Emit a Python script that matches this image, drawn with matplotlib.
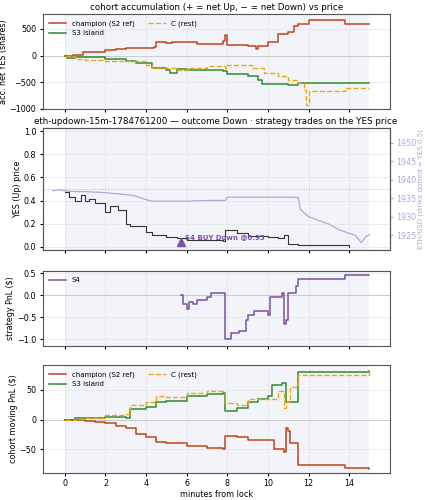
import matplotlib
matplotlib.use("Agg")
import matplotlib.pyplot as plt

# cohort accumulation (shares)
champ_acc_t = [0, 0.4, 0.9, 1.5, 2.0, 2.5, 3.0, 3.5, 4.4, 4.5, 5.0, 5.3, 5.5, 6.0, 6.5, 7.5, 7.8, 7.9, 8.0, 9.0, 9.4, 9.5, 10.0, 10.5, 11.0, 11.3, 11.5, 12.0, 13.8, 15]
champ_acc_v = [0, 20, 70, 60, 100, 120, 140, 150, 160, 250, 230, 250, 260, 250, 220, 220, 280, 380, 200, 180, 120, 180, 260, 400, 450, 550, 600, 660, 600, 600]
s3_acc_t = [0, 0.1, 0.5, 1, 2, 3, 3.5, 4.3, 5.0, 5.2, 5.5, 6, 7, 7.8, 8, 9, 9.5, 9.7, 10, 11, 11.5, 15]
s3_acc_v = [0, -40, -20, -30, -70, -110, -130, -240, -260, -320, -250, -260, -270, -280, -350, -390, -450, -530, -540, -550, -520, -520]
c_acc_t = [0, 0.5, 1, 2, 3, 4, 4.3, 5, 5.5, 6, 7, 7.9, 8, 9.0, 9.2, 9.8, 10.5, 11, 11.5, 11.8, 11.9, 12, 13.8, 15]
c_acc_v = [0, -70, -80, -100, -110, -170, -230, -240, -260, -230, -200, -230, -180, -180, -230, -330, -380, -450, -520, -650, -930, -660, -600, -600]

# YES price and ETH
yes_t = [0, 0.2, 0.5, 0.8, 1, 1.2, 1.5, 2, 2.2, 2.6, 3, 3.2, 3.6, 4, 4.3, 5, 5.5, 6, 6.5, 7, 7.8, 7.9, 8.5, 9, 10, 10.5, 10.8, 11, 11.5, 14]
yes_v = [0.47, 0.43, 0.40, 0.45, 0.40, 0.41, 0.38, 0.30, 0.35, 0.32, 0.20, 0.18, 0.18, 0.13, 0.10, 0.08, 0.07, 0.06, 0.06, 0.06, 0.05, 0.14, 0.12, 0.09, 0.08, 0.07, 0.10, 0.02, 0.01, 0.0]
eth_t = [-0.6, -0.3, 0, 0.5, 1, 2, 3, 3.5, 4, 4.3, 5, 6, 7, 7.9, 8, 9, 10, 11, 11.5, 11.6, 12, 12.5, 13, 13.5, 14, 14.3, 14.6, 14.8, 15]
eth_v = [1937.0, 1937.3, 1937.0, 1936.8, 1936.8, 1936.5, 1936.0, 1935.6, 1934.6, 1934.2, 1934.2, 1934.2, 1934.4, 1934.4, 1935.3, 1935.3, 1935.3, 1935.3, 1935.2, 1932, 1930, 1929, 1928, 1926.5, 1925.5, 1925, 1923, 1924.5, 1925.2]
buy_t, buy_p = 5.7, 0.04

# S4 strategy pnl
s4_t = [5.7, 5.8, 6.0, 6.1, 6.3, 6.5, 7.0, 7.2, 7.8, 7.9, 8.2, 8.6, 8.9, 9.0, 9.3, 10.0, 10.1, 10.7, 10.8, 10.9, 11.0, 11.4, 11.5, 13.8, 15]
s4_v = [0, -0.2, -0.3, -0.15, -0.2, -0.1, -0.05, 0.05, 0.05, -1.0, -0.85, -0.8, -0.55, -0.45, -0.35, -0.45, -0.05, 0.05, -0.65, -0.55, 0.05, 0.2, 0.37, 0.47, 0.47]

# cohort moving pnl
champ_pnl_t = [0, 0.5, 1, 1.5, 2, 2.5, 3, 3.5, 4, 4.5, 5, 6, 7, 7.8, 7.9, 8.5, 9, 10, 10.3, 10.8, 10.9, 11, 11.1, 11.5, 13.8, 15]
champ_pnl_v = [0, -1, -2, -4, -6, -10, -15, -25, -30, -38, -40, -45, -48, -50, -27, -30, -35, -35, -50, -55, -15, -20, -40, -77, -82, -83]
s3_pnl_t = [0, 0.5, 1, 2, 3, 3.2, 4, 4.5, 5, 6, 7, 7.8, 7.9, 8.5, 9, 9.5, 10, 10.2, 10.7, 10.9, 11.5, 13.8, 15]
s3_pnl_v = [0, 2, 3, 4, 3, 18, 22, 30, 32, 40, 43, 44, 15, 20, 30, 35, 40, 58, 62, 30, 80, 80, 82]
c_pnl_t = [0, 0.5, 1, 2, 3, 3.2, 4, 4.5, 5, 6, 7, 7.8, 7.9, 8.5, 9, 10, 10.5, 10.8, 10.9, 11.1, 11.5, 13.8, 15]
c_pnl_v = [0, 1, 3, 8, 10, 25, 30, 40, 38, 45, 48, 49, 28, 25, 35, 35, 48, 20, 30, 55, 75, 75, 83]

RED = "#c0441a"
GREEN = "#2e8b2e"
GOLD = "#e6a817"
PURPLE = "#7b4fa8"
ETHC = "#b7a3d6"

FS = 5.8
plt.rcParams["font.size"] = FS
fig = plt.figure(figsize=(4.25, 5.0), dpi=100)
ax1 = fig.add_axes([0.10, 0.782, 0.817, 0.190])
ax2 = fig.add_axes([0.10, 0.500, 0.817, 0.244])
ax3 = fig.add_axes([0.10, 0.308, 0.817, 0.150])
ax4 = fig.add_axes([0.10, 0.054, 0.817, 0.216])

for ax in (ax1, ax2, ax3, ax4):
    ax.axvspan(0, 15, color="#eef0f8", alpha=0.7, lw=0)
    ax.grid(True, color="#e4e4e4", lw=0.5)
    ax.set_xlim(-1.1, 16)
    ax.set_xticks(range(0, 16, 2))
    ax.tick_params(labelsize=FS, length=2.5, pad=2)
    for s in ax.spines.values():
        s.set_color("#555555")
for ax in (ax1, ax2, ax3):
    ax.tick_params(labelbottom=False)

ax1.axhline(0, color="#cccccc", lw=0.7)
ax1.step(champ_acc_t, champ_acc_v, where="post", color=RED, lw=1.1, label="champion (S2 ref)")
ax1.step(s3_acc_t, s3_acc_v, where="post", color=GREEN, lw=1.1, label="S3 island")
ax1.step(c_acc_t, c_acc_v, where="post", color=GOLD, lw=1.0, ls="--", label="C (rest)")
ax1.set_ylim(-1000, 780)
ax1.set_yticks([-1000, -500, 0, 500])
ax1.set_ylabel("acc. net YES (shares)", fontsize=FS, labelpad=1)
ax1.set_title("cohort accumulation (+ = net Up, \u2212 = net Down) vs price", fontsize=6.3, pad=3)
ax1.legend(loc="upper left", ncol=2, fontsize=5, frameon=False, handlelength=2.5)

ax2.axhline(0.5, color="#bbbbbb", lw=0.7, ls=":")
ax2.step(yes_t, yes_v, where="post", color="#333333", lw=0.8)
ax2.plot(buy_t, buy_p, marker="^", color=PURPLE, ms=6, ls="none")
ax2.annotate("S4 BUY Down @0.95", (buy_t, buy_p), xytext=(3, 2), textcoords="offset points",
             color=PURPLE, fontsize=5, fontweight="bold")
ax2.set_ylim(-0.03, 1.03)
ax2.set_ylabel("YES (Up) price", fontsize=FS, labelpad=1)
ax2.set_title("eth-updown-15m-1784761200 \u2014 outcome Down \u00b7 strategy trades on the YES price", fontsize=6.3, pad=3)
ax2b = ax2.twinx()
ax2b.plot(eth_t, eth_v, color=ETHC, lw=0.9)
ax2b.set_ylim(1921, 1954)
ax2b.set_yticks([1925, 1930, 1935, 1940, 1945, 1950])
ax2b.tick_params(labelsize=FS, colors=ETHC, length=2.5, pad=2)
ax2b.set_ylabel("ETH/USD (strike dotted = YES 0.5)", fontsize=5, color=ETHC, labelpad=1)
for s in ax2b.spines.values():
    s.set_color("#555555")

ax3.axhline(0, color="#cccccc", lw=0.7)
ax3.step(s4_t, s4_v, where="post", color=PURPLE, lw=1.1, label="S4")
ax3.set_ylim(-1.15, 0.55)
ax3.set_yticks([-1.0, -0.5, 0.0, 0.5])
ax3.set_ylabel("strategy PnL ($)", fontsize=FS, labelpad=1)
ax3.legend(loc="upper left", fontsize=5, frameon=False, handlelength=2.5)

ax4.axhline(0, color="#cccccc", lw=0.7)
ax4.step(champ_pnl_t, champ_pnl_v, where="post", color=RED, lw=1.1, label="champion (S2 ref)")
ax4.step(s3_pnl_t, s3_pnl_v, where="post", color=GREEN, lw=1.1, label="S3 island")
ax4.step(c_pnl_t, c_pnl_v, where="post", color=GOLD, lw=1.0, ls="--", label="C (rest)")
ax4.set_ylim(-90, 92)
ax4.set_yticks([-50, 0, 50])
ax4.set_ylabel("cohort moving PnL ($)", fontsize=FS, labelpad=1)
ax4.set_xlabel("minutes from lock", fontsize=FS, labelpad=1)
ax4.legend(loc="upper left", ncol=2, fontsize=5, frameon=False, handlelength=2.5)

fig.savefig("out.png", dpi=100)
